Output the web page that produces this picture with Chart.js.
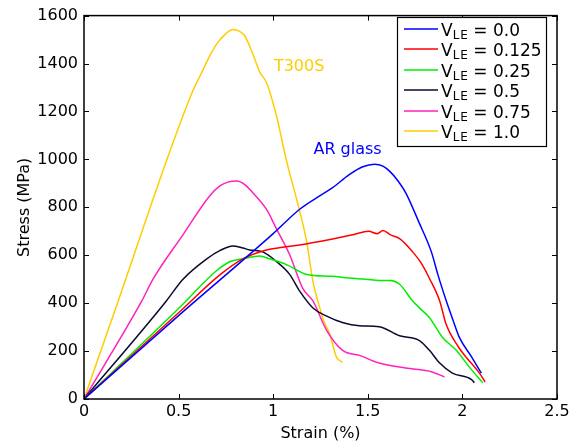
<!DOCTYPE html>
<html>
<head>
<meta charset="utf-8">
<script src="https://cdn.jsdelivr.net/npm/chart.js@4.4.1/dist/chart.umd.min.js"></script>
<style>
  html, body { margin: 0; padding: 0; background: #fff; }
  #wrap { width: 581px; height: 448px; }
</style>
</head>
<body>
<div id="wrap"><canvas id="stressChart" width="581" height="448"></canvas></div>
<script>
// stress-strain curves, strain in %, stress in MPa
const vleLabels = ['0.0', '0.125', '0.25', '0.5', '0.75', '1.0'];
const lineColors = ['#0000ff', '#ff0000', '#00ee00', '#0a0a2e', '#ff22bb', '#ffcc00'];

const strain00 = [0, 0.5, 1.0, 1.14, 1.25, 1.314, 1.40, 1.47, 1.536, 1.58, 1.615, 1.66, 1.70, 1.77, 1.836, 1.87, 1.915, 1.95, 1.984, 2.05, 2.10];
const stress00 = [0, 348, 690, 792, 850, 882, 935, 968, 980, 972, 951, 910, 861, 738, 614, 520, 409, 330, 257, 174, 108];

const strain0125 = [0, 0.5, 0.718, 0.84, 0.964, 1.05, 1.14, 1.314, 1.42, 1.504, 1.55, 1.58, 1.62, 1.67, 1.737, 1.78, 1.826, 1.88, 1.913, 1.98, 2.02, 2.09, 2.12];
const stress0125 = [0, 360, 518, 585, 622, 633, 643, 668, 685, 700, 690, 703, 685, 668, 614, 570, 503, 409, 314, 216, 174, 108, 71];

const strain025 = [0, 0.5, 0.7, 0.77, 0.84, 0.93, 0.98, 1.07, 1.177, 1.31, 1.40, 1.49, 1.56, 1.62, 1.668, 1.737, 1.78, 1.826, 1.895, 1.968, 2.037, 2.107];
const stress025 = [0, 378, 535, 573, 585, 597, 585, 561, 520, 512, 505, 500, 495, 495, 479, 409, 375, 339, 257, 203, 133, 68];

const strain05 = [0, 0.433, 0.522, 0.649, 0.72, 0.786, 0.84, 0.876, 0.945, 1.018, 1.087, 1.14, 1.21, 1.28, 1.37, 1.456, 1.56, 1.668, 1.773, 1.826, 1.88, 1.947, 2.05, 2.063];
const stress05 = [0, 407, 499, 585, 620, 639, 630, 622, 614, 573, 520, 450, 380, 347, 318, 306, 302, 264, 244, 203, 150, 108, 80, 68];

const strain075 = [0, 0.304, 0.364, 0.522, 0.665, 0.718, 0.76, 0.807, 0.85, 0.892, 0.964, 1.018, 1.087, 1.156, 1.21, 1.28, 1.367, 1.456, 1.56, 1.70, 1.84, 1.905];
const stress075 = [0, 407, 499, 684, 848, 889, 905, 910, 895, 861, 792, 709, 602, 462, 409, 290, 203, 182, 150, 129, 113, 92];

const strain10 = [0, 0.18, 0.454, 0.575, 0.612, 0.66, 0.70, 0.75, 0.786, 0.82, 0.85, 0.89, 0.93, 0.964, 0.998, 1.025, 1.052, 1.077, 1.124, 1.177, 1.21, 1.25, 1.27, 1.298, 1.335, 1.367];
const stress10 = [0, 407, 1034, 1285, 1346, 1425, 1480, 1525, 1542, 1535, 1515, 1445, 1363, 1322, 1239, 1157, 1058, 973, 833, 656, 491, 370, 320, 273, 174, 154];

const xTicks = [0, 0.5, 1, 1.5, 2, 2.5];
const yTicks = [0, 200, 400, 600, 800, 1000, 1200, 1400, 1600];

const allStrain = [strain00, strain0125, strain025, strain05, strain075, strain10];
const allStress = [stress00, stress0125, stress025, stress05, stress075, stress10];

const font = 'DejaVu Sans';

const datasets = allStrain.map((xs, i) => ({
    label: 'VLE = ' + vleLabels[i],
    data: xs.map((x, j) => ({ x: x, y: allStress[i][j] })),
    borderColor: lineColors[i],
    borderWidth: 1.5,
    pointRadius: 0,
    cubicInterpolationMode: 'monotone',
    fill: false
}));

// box around the axes with inward ticks on all four sides
const frameTicks = {
    id: 'frameTicks',
    afterDraw(chart) {
        const { ctx, chartArea: a, scales } = chart;
        ctx.save();
        ctx.strokeStyle = '#000';
        ctx.lineWidth = 1;
        const len = 5;
        xTicks.forEach(v => {
            const px = Math.round(scales.x.getPixelForValue(v)) + 0.5;
            ctx.beginPath();
            ctx.moveTo(px, a.bottom); ctx.lineTo(px, a.bottom - len);
            ctx.moveTo(px, a.top); ctx.lineTo(px, a.top + len);
            ctx.stroke();
        });
        yTicks.forEach(v => {
            const py = Math.round(scales.y.getPixelForValue(v)) + 0.5;
            ctx.beginPath();
            ctx.moveTo(a.left, py); ctx.lineTo(a.left + len, py);
            ctx.moveTo(a.right, py); ctx.lineTo(a.right - len, py);
            ctx.stroke();
        });
        ctx.lineWidth = 1.5;
        ctx.strokeRect(a.left, a.top, a.right - a.left, a.bottom - a.top);
        ctx.restore();
    }
};

// legend with subscripted V_LE, plus the two curve notes
const legendNotes = {
    id: 'legendNotes',
    afterDraw(chart) {
        const { ctx, scales } = chart;
        ctx.save();
        ctx.fillStyle = '#fff';
        ctx.fillRect(397, 17, 149, 130);
        ctx.strokeStyle = '#000';
        ctx.lineWidth = 1.2;
        ctx.strokeRect(397.5, 17.5, 149, 129);
        ctx.textBaseline = 'alphabetic';
        vleLabels.forEach((lab, i) => {
            const cy = Math.round(29 + i * 20.4);
            ctx.strokeStyle = lineColors[i];
            ctx.lineWidth = 1.5;
            ctx.beginPath();
            ctx.moveTo(404, cy); ctx.lineTo(438, cy);
            ctx.stroke();
            ctx.fillStyle = '#000';
            let x = 441;
            const base = cy + 7;
            ctx.font = '17px "' + font + '"';
            ctx.fillText('V', x, base);
            x += ctx.measureText('V').width;
            ctx.font = '12px "' + font + '"';
            ctx.fillText('L', x, base + 3);
            x += ctx.measureText('L').width + 1;
            ctx.fillText('E', x, base + 3);
            x += ctx.measureText('E').width;
            ctx.font = '17px "' + font + '"';
            ctx.fillText(' = ' + lab, x, base);
        });
        ctx.font = '16px "' + font + '"';
        ctx.textAlign = 'center';
        ctx.fillStyle = '#ffcc00';
        ctx.fillText('T300S', scales.x.getPixelForValue(1.137), scales.y.getPixelForValue(1367));
        ctx.fillStyle = '#0000ff';
        ctx.fillText('AR glass', scales.x.getPixelForValue(1.393), scales.y.getPixelForValue(1022));
        ctx.restore();
    }
};

const stressCtx = document.getElementById('stressChart').getContext('2d');
const stressChart = new Chart(stressCtx, {
    type: 'line',
    data: { datasets: datasets },
    options: {
        responsive: false,
        animation: false,
        layout: { padding: { top: 11, right: 24, left: 0, bottom: 0 } },
        plugins: {
            legend: { display: false },
            tooltip: { enabled: false }
        },
        scales: {
            x: {
                type: 'linear',
                min: 0,
                max: 2.5,
                afterBuildTicks: s => { s.ticks = xTicks.map(v => ({ value: v })); },
                afterFit: s => { s.height = 49; },
                grid: { display: false, drawTicks: false },
                border: { display: false },
                ticks: {
                    color: '#000',
                    padding: 3,
                    maxRotation: 0,
                    font: { family: font, size: 16 },
                    callback: v => String(v)
                },
                title: {
                    display: true,
                    text: 'Strain (%)',
                    color: '#000',
                    font: { family: font, size: 16 },
                    padding: { top: 0, bottom: 5 }
                }
            },
            y: {
                min: 0,
                max: 1600,
                afterBuildTicks: s => { s.ticks = yTicks.map(v => ({ value: v })); },
                afterFit: s => { s.width = 84; },
                grid: { display: false, drawTicks: false },
                border: { display: false },
                ticks: {
                    color: '#000',
                    padding: 6,
                    font: { family: font, size: 16 },
                    callback: v => String(v)
                },
                title: {
                    display: true,
                    text: 'Stress (MPa)',
                    color: '#000',
                    font: { family: font, size: 16 },
                    padding: { top: 15, bottom: 0 }
                }
            }
        }
    },
    plugins: [frameTicks, legendNotes]
});
</script>
</body>
</html>
